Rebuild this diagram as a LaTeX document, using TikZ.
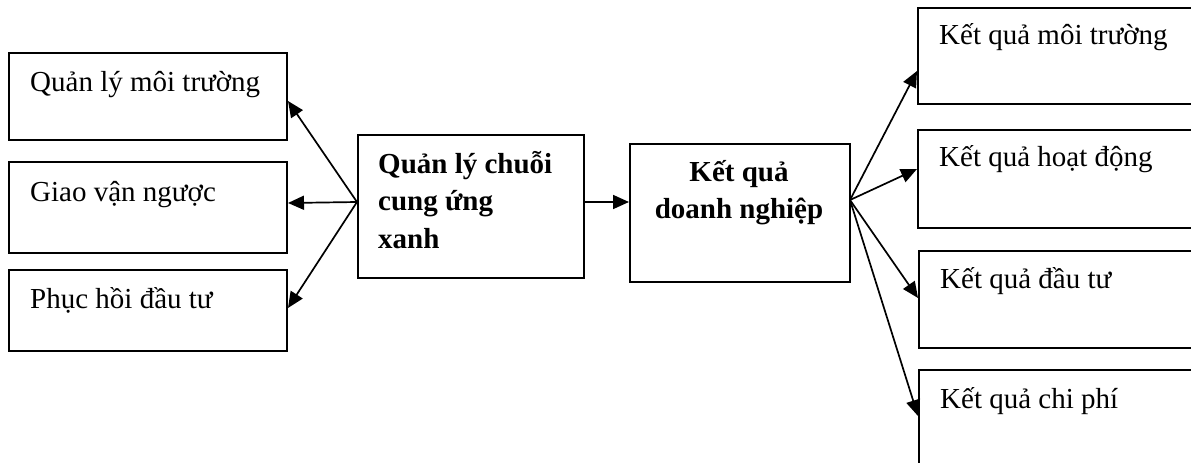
\documentclass[tikz,border=0pt]{standalone}
\usepackage{fontspec}
\setmainfont{Liberation Serif}
\usetikzlibrary{arrows.meta}
\begin{document}
\begin{tikzpicture}[x=1pt,y=-1pt,
  box/.style={draw, line width=2pt, rectangle, inner sep=0pt, anchor=north west},
  txt/.style={anchor=base west, inner sep=0pt, font=\fontsize{29}{37.5}\selectfont},
  boldtxt/.style={inner sep=0pt, font=\fontsize{29}{37.5}\selectfont\bfseries},
  conn/.style={line width=1.7pt, -{Triangle[length=16pt,width=14pt]}}]
\useasboundingbox (0,0) rectangle (1191,463);

% left column
\node[box, minimum width=278pt, minimum height=87pt] (env) at (8,52) {};
\node[box, minimum width=278pt, minimum height=91pt] (rev) at (8,161) {};
\node[box, minimum width=278pt, minimum height=81pt] (inv) at (8,269) {};
\node[txt] (envt) at (30,91) {Quản lý môi trường};
\node[txt] (revt) at (30,201) {Giao vận ngược};
\node[txt] (invt) at (30,308) {Phục hồi đầu tư};

% centre: first baseline of each block sits at the node's base anchor
\node[box, minimum width=226pt, minimum height=143pt] (gscm) at (357,134) {};
\node[boldtxt, anchor=base west] (gscmt) at (378,173)
  {\vtop{\hbox{Quản lý chuỗi}\hbox{cung ứng}\hbox{xanh}}};
\node[box, minimum width=220pt, minimum height=138pt] (perf) at (629,143) {};
\node[boldtxt, anchor=base] (perft) at (739,181)
  {\vtop{\halign{\hfil#\hfil\cr Kết quả\cr doanh nghiệp\cr}}};

% right column (boxes run past the right edge)
\node[box, minimum width=300pt, minimum height=96pt] (r1) at (917,7) {};
\node[box, minimum width=300pt, minimum height=98pt] (r2) at (917,129) {};
\node[box, minimum width=300pt, minimum height=97pt] (r3) at (918,250) {};
\node[box, minimum width=300pt, minimum height=100pt] (r4) at (918,369) {};
\node[txt] (r1t) at (939,44) {Kết quả môi trường};
\node[txt] (r2t) at (939,166) {Kết quả hoạt động};
\node[txt] (r3t) at (940,288) {Kết quả đầu tư};
\node[txt] (r4t) at (940,408) {Kết quả chi phí};

% connectors
\coordinate (jl) at (357,202);
\coordinate (jr) at (850,200);
\draw[conn] (jl) -- ([yshift=-4.5pt]env.east);
\draw[conn] (jl) -- ([yshift=4.5pt]rev.east);
\draw[conn] (jl) -- ([yshift=2.5pt]inv.east);
\draw[conn] ([yshift=4.5pt]gscm.east) -- ([yshift=11pt]perf.west);
\draw[conn] (jr) -- ([yshift=-15pt]r1.west);
\draw[conn] (jr) -- ([yshift=10pt]r2.west);
\draw[conn] (jr) -- ([yshift=1.5pt]r3.west);
\draw[conn] (jr) -- ([yshift=4pt]r4.west);
\end{tikzpicture}
\end{document}
